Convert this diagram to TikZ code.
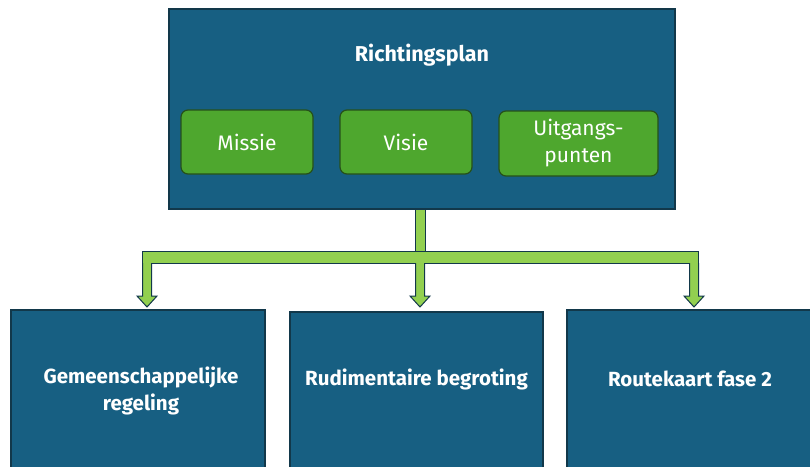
\documentclass[tikz,border=0pt]{standalone}
\usepackage{fontspec}
\setmainfont{Fira Sans}
\usetikzlibrary{positioning}
\definecolor{planblue}{HTML}{175F82}
\definecolor{edgeblue}{HTML}{12384A}
\definecolor{partgreen}{HTML}{4EA72E}
\definecolor{edgegreen}{HTML}{26501A}
\definecolor{linkgreen}{HTML}{92D050}
\tikzset{
  planbox/.style={draw=edgeblue,line width=1.2pt,fill=planblue,minimum width=506pt,minimum height=200pt,inner sep=0pt},
  partbox/.style={draw=edgegreen,line width=1.2pt,fill=partgreen,rounded corners=7pt,minimum width=132pt,minimum height=64pt,
    text=white,align=center,font=\fontsize{21}{27}\selectfont},
  goalbox/.style={draw=edgeblue,line width=1.2pt,fill=planblue,minimum width=254pt,minimum height=170pt,inner sep=0pt},
  goaltext/.style={text=white,align=center,font=\bfseries\fontsize{20.5}{27}\selectfont},
  linkbar/.style={draw=edgeblue,line width=1pt,fill=linkgreen}
}
\begin{document}
\begin{tikzpicture}[x=1pt,y=-1pt]
\useasboundingbox (0,0) rectangle (810,466);
% richtingsplan
\node[planbox] (plan) at (422,109) {};
\node[text=white,font=\bfseries\fontsize{21.5}{24}\selectfont] (title) at (422,55) {Richtingsplan};
\node[partbox] (missie) at (247,142) {Missie};
\node[partbox] (visie) at (406,142) {Visie};
\node[partbox,minimum width=159pt,minimum height=65pt] (punten) at (578.5,143.5) {Uitgangs-\\punten};
% uitwerking
\node[goalbox] (regeling) at (138,395) {};
\node[goalbox,minimum width=253pt] (begroting) at (416.5,397) {};
\node[goalbox,minimum width=254pt] (routekaart) at (694,395) {};
\node[goaltext] at (141,391) {Gemeenschappelijke\\regeling};
\node[goaltext] at (416.5,379) {Rudimentaire begroting};
\node[goaltext] at (690,379) {Routekaart fase 2};
% verbinding
\coordinate (stem) at (plan.south -| 420,0);
\draw[linkbar] ([xshift=-5pt]stem) rectangle (425,251);
\draw[linkbar] (142,251) rectangle (698,263);
\foreach \goal/\x in {regeling/147,begroting/420,routekaart/694}
  \draw[linkbar] (\x-4.5,263)--(\x-4.5,296)--(\x-10,296)--(\x,307)--(\x+10,296)--(\x+4.5,296)--(\x+4.5,263);
\end{tikzpicture}
\end{document}
